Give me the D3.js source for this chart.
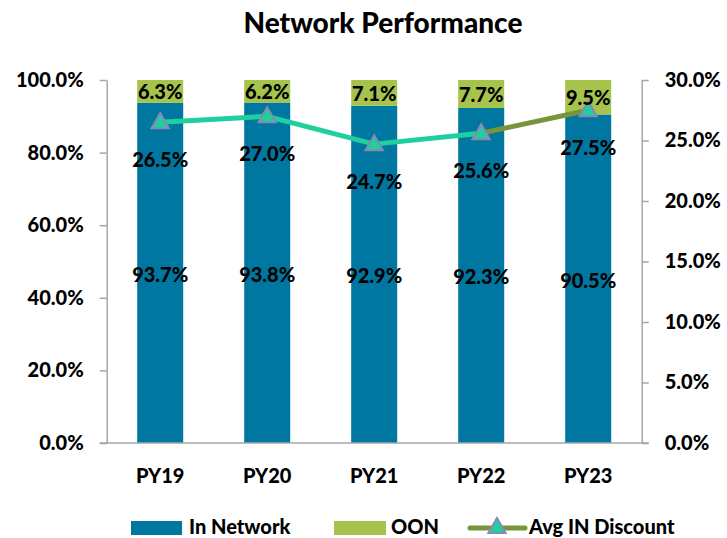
<!DOCTYPE html>
<html>
<head>
<meta charset="utf-8">
<script src="https://cdn.jsdelivr.net/npm/d3@7"></script>
<style>
  body { margin: 0; background: #fff; }
  text { font-family: Lato, "Open Sans", sans-serif; font-weight: 900; fill: #000; }
</style>
</head>
<body>
<script>
var years = ['PY19', 'PY20', 'PY21', 'PY22', 'PY23']
var inNetwork = [93.7, 93.8, 92.9, 92.3, 90.5]
var oon = [6.3, 6.2, 7.1, 7.7, 9.5]
var avgDiscount = [26.5, 27.0, 24.7, 25.6, 27.5]
var leftTicks = [0, 20, 40, 60, 80, 100]
var rightTicks = [0, 5, 10, 15, 20, 25, 30]

var W = 727, H = 538
var blue = '#0077a1', green = '#a6c34b', teal = '#1fd09e', olive = '#78953a'
var axisGrey = '#a6a6a6'

var svg = d3.select('body').append('svg').attr('width', W).attr('height', H)

var m = { left: 106.7, right: 641.7, top: 80, bottom: 443 }

var x = d3.scaleBand().domain(years).range([m.left, m.right]).paddingInner(0.57).paddingOuter(0.285)
var yL = d3.scaleLinear().domain([0, 100]).range([m.bottom, m.top])
var yR = d3.scaleLinear().domain([0, 30]).range([m.bottom, m.top])

// title
svg.append('text').attr('x', 383).attr('y', 33).attr('text-anchor', 'middle')
  .style('font-size', '28px').text('Network Performance')

// bars
var g = svg.append('g')
years.forEach(function (yr, i) {
  g.append('rect').attr('x', x(yr)).attr('width', x.bandwidth())
    .attr('y', yL(inNetwork[i])).attr('height', yL(0) - yL(inNetwork[i])).attr('fill', blue)
  g.append('rect').attr('x', x(yr)).attr('width', x.bandwidth())
    .attr('y', yL(inNetwork[i] + oon[i])).attr('height', yL(inNetwork[i]) - yL(inNetwork[i] + oon[i])).attr('fill', green)
})

// axes
function styleAxis (sel) {
  sel.select('.domain').attr('stroke', axisGrey).attr('stroke-width', 1.5)
  sel.selectAll('.tick line').attr('stroke', axisGrey).attr('stroke-width', 1.5)
  sel.selectAll('.tick text').style('font-size', '20px').style('font-family', 'Lato, sans-serif')
    .style('font-weight', 900).attr('fill', '#000')
}
var axL = svg.append('g').attr('transform', 'translate(' + m.left + ',0)')
  .call(d3.axisLeft(yL).tickValues(leftTicks).tickSize(7).tickSizeOuter(0).tickPadding(16)
    .tickFormat(function (d) { return d.toFixed(1) + '%' }))
styleAxis(axL)
var axR = svg.append('g').attr('transform', 'translate(' + m.right + ',0)')
  .call(d3.axisRight(yR).tickValues(rightTicks).tickSize(7).tickSizeOuter(0).tickPadding(16)
    .tickFormat(function (d) { return d.toFixed(1) + '%' }))
styleAxis(axR)

// baseline
svg.append('line').attr('x1', m.left - 7).attr('x2', m.right + 7).attr('y1', m.bottom).attr('y2', m.bottom)
  .attr('stroke', axisGrey).attr('stroke-width', 1.5)

// x labels
svg.selectAll('.xl').data(years).enter().append('text')
  .attr('x', function (d) { return x(d) + x.bandwidth() / 2 }).attr('y', 483)
  .attr('text-anchor', 'middle').style('font-size', '20px').text(function (d) { return d })

// line segments
var cx = function (i) { return x(years[i]) + x.bandwidth() / 2 }
for (var i = 0; i < years.length - 1; i++) {
  svg.append('line').attr('x1', cx(i)).attr('y1', yR(avgDiscount[i]))
    .attr('x2', cx(i + 1)).attr('y2', yR(avgDiscount[i + 1]))
    .attr('stroke', i === years.length - 2 ? olive : teal).attr('stroke-width', 5)
}

var tri = d3.symbol().type(d3.symbolTriangle).size(130)
function marker (px, py) {
  svg.append('path').attr('d', tri).attr('transform', 'translate(' + px + ',' + (py + 1) + ')')
    .attr('fill', teal).attr('stroke', '#8a88b4').attr('stroke-width', 2)
}
avgDiscount.forEach(function (v, i) { marker(cx(i), yR(v)) })

// labels
years.forEach(function (yr, i) {
  var c = cx(i)
  var top = yL(inNetwork[i] + oon[i]), mid = yL(inNetwork[i])
  svg.append('text').attr('x', c).attr('y', (top + mid) / 2 + 8).attr('text-anchor', 'middle')
    .style('font-size', '20px').text(oon[i].toFixed(1) + '%')
  svg.append('text').attr('x', c).attr('y', (mid + yL(0)) / 2 + 9).attr('text-anchor', 'middle')
    .style('font-size', '20px').text(inNetwork[i].toFixed(1) + '%')
  svg.append('text').attr('x', c).attr('y', yR(avgDiscount[i]) + 45).attr('text-anchor', 'middle')
    .style('font-size', '20px').text(avgDiscount[i].toFixed(1) + '%')
})

// legend
var lg = svg.append('g')
lg.append('rect').attr('x', 131).attr('y', 521).attr('width', 51).attr('height', 14).attr('fill', blue)
lg.append('text').attr('x', 189).attr('y', 534).style('font-size', '20px').text('In Network')
lg.append('rect').attr('x', 334).attr('y', 521).attr('width', 52).attr('height', 14).attr('fill', green)
lg.append('text').attr('x', 391).attr('y', 534).style('font-size', '20px').text('OON')
lg.append('line').attr('x1', 470).attr('x2', 525).attr('y1', 528).attr('y2', 528)
  .attr('stroke', olive).attr('stroke-width', 5).attr('stroke-linecap', 'round')
marker(497, 527)
lg.append('text').attr('x', 529).attr('y', 534).style('font-size', '20px').text('Avg IN Discount')
</script>
</body>
</html>
